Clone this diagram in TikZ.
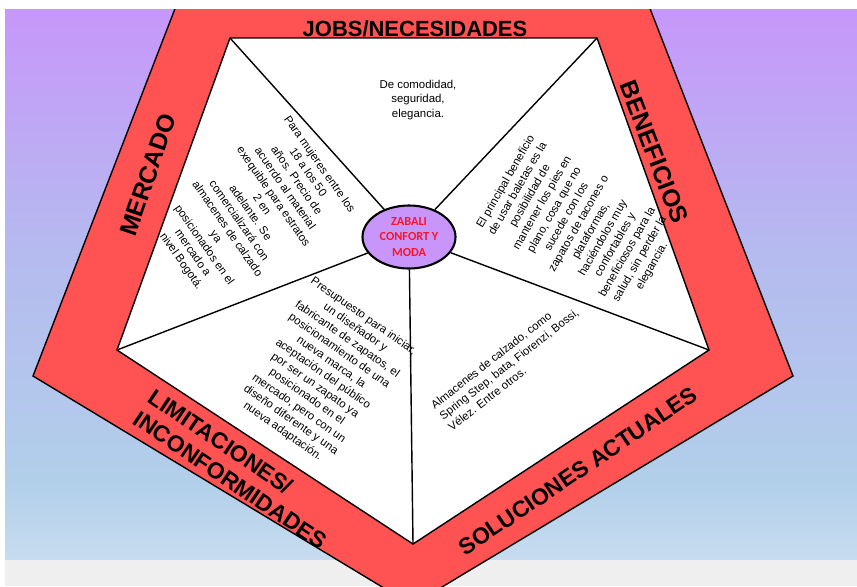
\documentclass[tikz,border=0pt]{standalone}
\usepackage{fontspec}
\setmainfont{Liberation Sans}
\newfontfamily\calfont{Carlito}
\usepackage{tikz}
\usetikzlibrary{shapes,positioning}
\definecolor{bgtop}{RGB}{199,151,250}
\definecolor{bgmid}{RGB}{181,186,239}
\definecolor{bgblue}{RGB}{178,207,234}
\definecolor{bgbot}{RGB}{199,220,239}
\definecolor{bandred}{RGB}{255,82,82}
\definecolor{corefill}{RGB}{200,150,250}
\definecolor{corered}{RGB}{250,20,40}
\definecolor{stripgray}{RGB}{239,239,239}
\pgfdeclareverticalshading{sky}{100bp}{color(0bp)=(bgbot); color(25bp)=(bgbot); color(32bp)=(bgblue); color(53bp)=(bgmid); color(75bp)=(bgtop); color(100bp)=(bgtop)}
\tikzstyle{band} = [draw, thick, fill=bandred]
\tikzstyle{cell} = [draw, thick, fill=white]
\tikzstyle{spoke} = [draw, thick]
\tikzstyle{core} = [draw, very thick, fill=corefill, ellipse, minimum width=1.86cm, minimum height=1.26cm, inner sep=0pt, align=center, text=corered, font=\calfont\bfseries\fontsize{7}{8.8}\selectfont]
\tikzstyle{heading} = [inner sep=0pt, align=left, font=\bfseries\fontsize{13}{15}\selectfont]
\tikzstyle{celltext} = [inner sep=0pt, align=center, font=\fontsize{6.5}{8}\selectfont]
\newcommand{\core}[2]{node (z#1) [core] {#2}}
\newcommand{\heading}[3]{node (h#1) [heading, #2] {#3}}
\newcommand{\celltext}[3]{node (c#1) [celltext, #2] {#3}}
\begin{document}
\begin{tikzpicture}[x=0.02cm, y=-0.02cm]
\useasboundingbox (0,0) rectangle (857,586);
\fill[white] (0,0) rectangle (857,586);
\shade[shading=sky] (5,9) rectangle (857,560);
\fill[stripgray] (5,560) rectangle (857,586);

\coordinate (o1) at (183,-12);
\coordinate (o2) at (642,-12);
\coordinate (o3) at (793,376);
\coordinate (o4) at (412,605);
\coordinate (o5) at (33,376);
\coordinate (v1) at (230,38);
\coordinate (v2) at (597,38);
\coordinate (v3) at (709,350);
\coordinate (v4) at (413,544);
\coordinate (v5) at (117,350);

\path [band] (o1) -- (o2) -- (o3) -- (o4) -- (o5) -- cycle;
\path [cell] (v1) -- (v2) -- (v3) -- (v4) -- (v5) -- cycle;
\fill[white] (0,-20) rectangle (857,9);

\path (415,29) \heading{1}{font=\bfseries\fontsize{12.5}{15}\selectfont}{JOBS/NECESIDADES};
\path (148,175) \heading{2}{rotate=71, font=\bfseries\fontsize{14}{16}\selectfont}{MERCADO};
\path (654,152) \heading{3}{rotate=-69, font=\bfseries\fontsize{14}{16}\selectfont}{BENEFICIOS};
\path (238,469) \heading{4}{rotate=-34}{LIMITACIONES/\\INCONFORMIDADES};
\path (578,471) \heading{5}{rotate=34}{SOLUCIONES ACTUALES};

\path (409,237) \core{1}{ZABALI\\CONFORT Y\\MODA};
\path [spoke] (z1) -- (v1);
\path [spoke] (z1) -- (v2);
\path [spoke] (z1) -- (v3);
\path [spoke] (z1) -- (v4);
\path [spoke] (z1) -- (v5);

\path (z1)+(9,-137) \celltext{1}{}{De comodidad,\\seguridad,\\elegancia.};
\path (z1)+(-159,-24) \celltext{2}{rotate=-55}{Para mujeres entre los\\18 a los 50\\años. Precio de\\acuerdo al material\\exequible para estratos\\2 en\\adelante. Se\\comercializará con\\almacenes de calzado\\ya\\posicionados en el\\mercado a\\nivel Bogotá.};
\path (z1)+(170,-13) \celltext{3}{rotate=60}{El principal beneficio\\de usar baletas es la\\posibilidad de\\mantener los pies en\\plano, cosa que no\\sucede con los\\zapatos de tacones o\\plataformas,\\haciéndolos muy\\confortables y\\beneficiosos para la\\salud, sin perder la\\elegancia.};
\path (z1)+(-86,137) \celltext{4}{rotate=-35}{Presupuesto para iniciar,\\un diseñador y\\fabricante de zapatos, el\\posicionamiento de una\\nueva marca, la\\aceptación del público\\por ser un zapato ya\\posicionado en el\\mercado, pero con un\\diseño diferente y una\\nueva adaptación.};
\path (z1)+(100,127) \celltext{5}{rotate=38, align=left}{Almacenes de calzado, como\\Spring Step, bata, Fiorenzi, Bossi,\\Vélez. Entre otros.};
\end{tikzpicture}
\end{document}
